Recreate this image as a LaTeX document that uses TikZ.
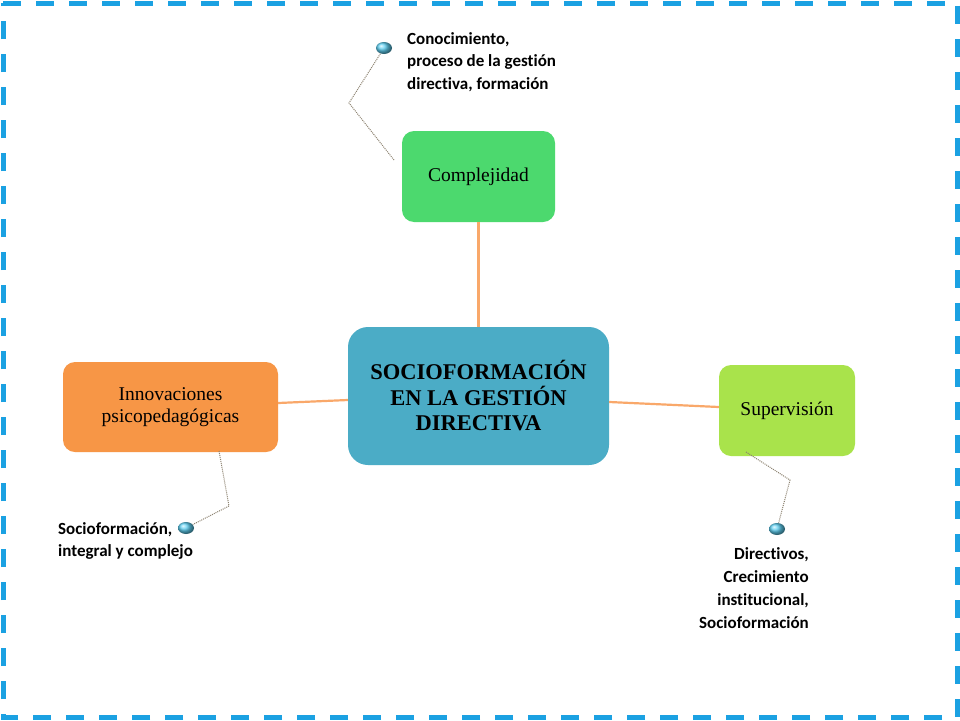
\documentclass[tikz,border=0pt]{standalone}
\usepackage{fontspec}
\setmainfont{Liberation Serif}
\newfontfamily\calib[RawFeature=-liga]{Carlito}
\usetikzlibrary{shadings,shapes.geometric}
\definecolor{frameblue}{HTML}{1BA1E2}
\definecolor{cgreen}{HTML}{4CD96E}
\definecolor{cteal}{HTML}{4BACC6}
\definecolor{corange}{HTML}{F79646}
\definecolor{clime}{HTML}{A9E34B}
\definecolor{lineor}{HTML}{F9A86A}
\definecolor{bulb}{HTML}{5FD0F2}
\definecolor{dotline}{HTML}{8C8270}
\tikzset{
  box/.style={rounded corners=12pt, draw=none, align=center, font=\fontsize{19.5}{22}\selectfont, text=black},
  link/.style={draw=lineor, line width=2.2pt},
  callout/.style={draw=dotline, line width=1pt, densely dotted},
  note/.style={font=\calib\bfseries\fontsize{17}{22.5}\selectfont, inner sep=0pt},
  pin/.style={ellipse, minimum width=16pt, minimum height=12pt, inner sep=0pt, ball color=bulb, draw=none},
}
\begin{document}
\begin{tikzpicture}[x=1pt,y=-1pt]
\useasboundingbox (0,0) rectangle (960,720);
\fill[white] (0,0) rectangle (960,720);
\draw[frameblue, line width=5pt, dash pattern=on 18pt off 15pt] (3,3) -- (957,3) -- (957,717) -- (3,717) -- cycle;

% boxes
\node[box, fill=cgreen, minimum width=153pt, minimum height=91pt, text depth=3pt] (comp) at (478.5,176.5) {Complejidad};
\node[box, fill=cteal, rounded corners=20pt, minimum width=261pt, minimum height=138pt, font=\bfseries\fontsize{22.5}{25.5}\selectfont] (cen) at (478.5,396) {SOCIOFORMACIÓN\\EN LA GESTIÓN\\DIRECTIVA};
\node[box, fill=corange, minimum width=215pt, minimum height=90pt] (inno) at (170.5,407) {Innovaciones\\psicopedagógicas};
\node[box, fill=clime, minimum width=136pt, minimum height=91pt] (sup) at (787,410.5) {Supervisión};

% links
\draw[link] (cen.north) -- (comp.south);
\draw[link] (inno.east |- 0,403) -- (cen.west |- 0,400);
\draw[link] (cen.east |- 0,402) -- (sup.west |- 0,407);

% callouts
\coordinate (c1a) at (394,160);
\coordinate (c1b) at (349,103);
\node[pin] (p1) at (384,48) {};
\draw[callout] (c1a) -- (c1b) -- (p1);
\node[note, anchor=north west, align=left] (t1) at (407,32) {Conocimiento,\\proceso de la gestión\\directiva, formación};

\coordinate (c2a) at (219,451);
\coordinate (c2b) at (229,506);
\node[pin] (p2) at (186,528) {};
\draw[callout] (c2a) -- (c2b) -- (p2);
\node[note, anchor=north west, align=left] (t2) at (58,522) {Socioformación,\\integral y complejo};

\coordinate (c3a) at (746,452);
\coordinate (c3b) at (790,480);
\node[pin] (p3) at (777,529) {};
\draw[callout] (c3a) -- (c3b) -- (p3);
\node[note, anchor=north east, align=right, font=\calib\bfseries\fontsize{17}{23}\selectfont] (t3) at (809,547) {Directivos,\\Crecimiento\\institucional,\\Socioformación};
\end{tikzpicture}
\end{document}
